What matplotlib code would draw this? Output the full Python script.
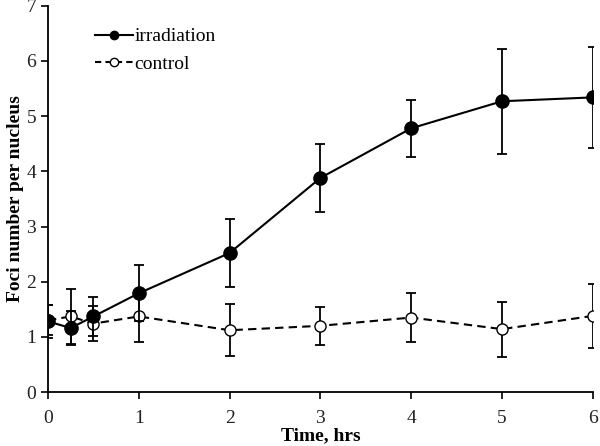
import numpy as np
import matplotlib
matplotlib.use('Agg')
import matplotlib.pyplot as plt
from matplotlib.lines import Line2D

plt.rcParams['font.family'] = ['Liberation Serif', 'DejaVu Serif']

# Data
time_hrs = [0, 0.25, 0.5, 1, 2, 3, 4, 5, 6]
irradiation = [1.28, 1.16, 1.37, 1.79, 2.52, 3.88, 4.78, 5.27, 5.34]
irradiation_err = [0.30, 0.30, 0.35, 0.51, 0.61, 0.62, 0.52, 0.95, 0.92]
control = [1.30, 1.37, 1.24, 1.37, 1.12, 1.20, 1.35, 1.14, 1.38]
control_err = [0.27, 0.50, 0.32, 0.46, 0.47, 0.35, 0.45, 0.50, 0.58]

fig = plt.figure(figsize=(6, 4.46), dpi=100)
ax = fig.add_axes([0.08, 0.121, 0.908, 0.866])

ax.errorbar(time_hrs, irradiation, yerr=irradiation_err, color='black',
            marker='o', markersize=9.5, linewidth=1.5, elinewidth=1.3,
            capsize=3.8, capthick=1.3, zorder=3)
ax.errorbar(time_hrs, control, yerr=control_err, color='black',
            linestyle='--', marker='o', markerfacecolor='white',
            markersize=8, linewidth=1.5, elinewidth=1.3, dashes=(4, 2.5),
            capsize=3.8, capthick=1.3, zorder=2)

ax.set_xlim(0, 6)
ax.set_ylim(0, 7)
ax.set_xticks([0, 1, 2, 3, 4, 5, 6])
ax.set_yticks(range(8))
ax.spines['top'].set_visible(False)
ax.spines['right'].set_visible(False)
ax.spines['left'].set_linewidth(1.3)
ax.spines['bottom'].set_linewidth(1.3)
ax.tick_params(direction='out', length=5, width=1.2, labelsize=14,
               labelcolor='#222222')
ax.tick_params(axis='x', pad=8)
ax.set_xlabel('Time, hrs', fontsize=14, fontweight='bold', labelpad=0)
ax.set_ylabel('Foci number per nucleus', fontsize=14, fontweight='bold',
              labelpad=2)

# legend entries without error bars, small markers
handles = [
    Line2D([], [], color='black', linewidth=1.5, marker='o', markersize=6),
    Line2D([], [], color='black', linewidth=1.5, linestyle='--',
           dashes=(3, 2), marker='o', markersize=6, markerfacecolor='white'),
]
ax.legend(handles, ['irradiation', 'control'], loc='upper left',
          bbox_to_anchor=(0.068, 0.968), frameon=False, borderpad=0,
          fontsize=14, handlelength=1.95, handletextpad=0.1,
          labelspacing=0.5)

fig.savefig('out.png', dpi=100)
